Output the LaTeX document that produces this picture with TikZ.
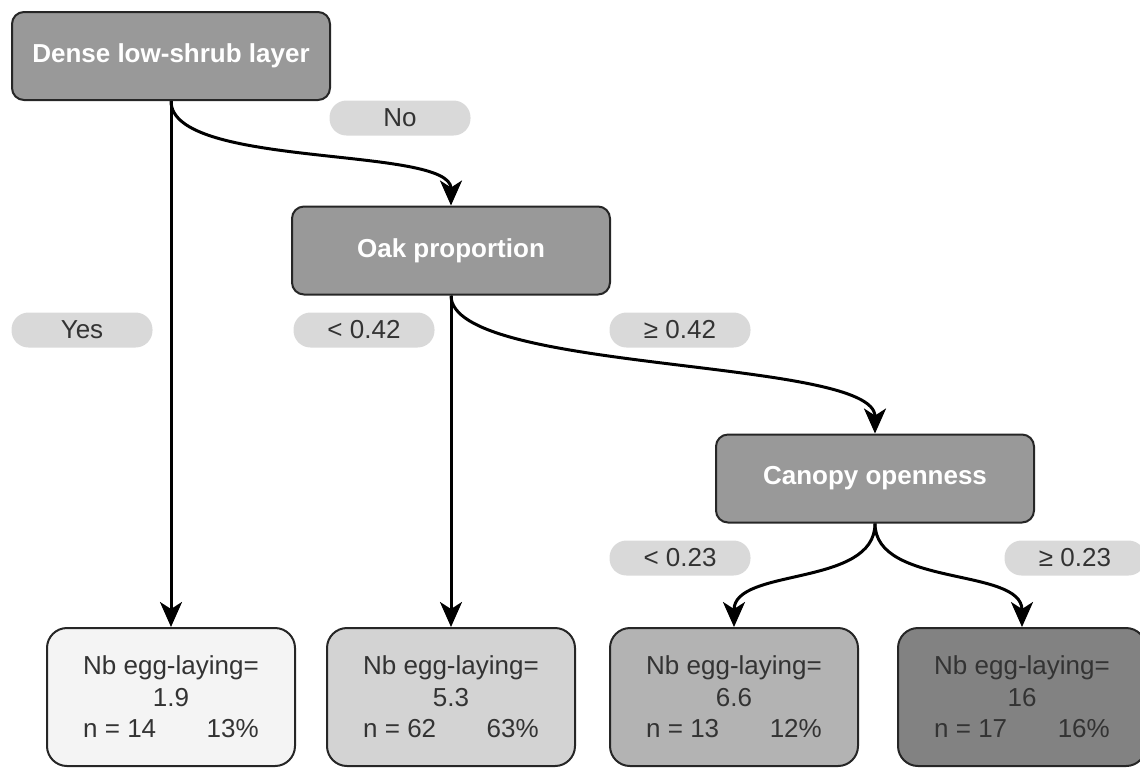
\documentclass[tikz,border=0pt]{standalone}
\usepackage{fontspec}
\setmainfont{Liberation Sans}
\usepackage{calc}
\usepackage{xcolor}
\usetikzlibrary{arrows.meta}
\definecolor{splitgray}{HTML}{999999}
\definecolor{pillgray}{HTML}{D9D9D9}
\definecolor{inkgray}{HTML}{333333}
\definecolor{leafA}{HTML}{F4F4F4}
\definecolor{leafB}{HTML}{D3D3D3}
\definecolor{leafC}{HTML}{B3B3B3}
\definecolor{leafD}{HTML}{828282}
\newcommand{\eggleaf}[3]{Nb egg-laying=\\#1\\\makebox[\widthof{Nb egg-laying=}]{n = #2\hfill #3\%}}

\begin{document}
\begin{tikzpicture}[x=0.5pt,y=-0.5pt,
  split/.style={draw=black!85,line width=1pt,rounded corners=6pt,fill=splitgray,minimum width=159pt,minimum height=44pt,inner sep=0pt,text=white,font=\fontsize{13}{16}\selectfont\bfseries},
  leaf/.style={draw=black!85,line width=1pt,rounded corners=10pt,minimum width=124pt,minimum height=69pt,inner sep=0pt,text=inkgray,align=center,font=\fontsize{13}{15.8}\selectfont},
  pill/.style={fill=pillgray,rounded corners=8.5pt,minimum width=70.5pt,minimum height=17.5pt,inner sep=0pt,text=inkgray,font=\fontsize{13}{15}\selectfont},
  edge/.style={line width=1.5pt,-{Stealth[length=12.5pt,width=11pt,inset=3.5pt]}}]
\useasboundingbox (0,0) rectangle (1140,768);
% \draw[densely dotted,step=50] (0,0) grid (1140,768);
\node[split] (root) at (171,56) {Dense low-shrub layer};
\node[split] (oak) at (451,250.5) {Oak proportion};
\node[split] (canopy) at (875,478.5) {Canopy openness};
\node[leaf,fill=leafA] (nodeA) at (171,697) {\eggleaf{1.9}{14}{13}};
\node[leaf,fill=leafB] (nodeB) at (451,697) {\eggleaf{5.3}{62}{63}};
\node[leaf,fill=leafC] (nodeC) at (734,697) {\eggleaf{6.6}{13}{12}};
\node[leaf,fill=leafD] (nodeD) at (1022,697) {\eggleaf{16}{17}{16}};
\node[pill] (no) at (400,118) {No};
\node[pill] (yes) at (82,330) {Yes};
\node[pill] (oaklo) at (364,330) {< 0.42};
\node[pill] (oakhi) at (680,330) {≥ 0.42};
\node[pill] (canlo) at (680,558) {< 0.23};
\node[pill] (canhi) at (1075,558) {≥ 0.23};
\draw[edge] (root.south) -- (nodeA.north);
\draw[edge] (root.south) .. controls +(0,68) and +(0,-60) .. (oak.north);
\draw[edge] (oak.south) -- (nodeB.north);
\draw[edge] (oak.south) .. controls +(0,78) and +(0,-76) .. (canopy.north);
\draw[edge] (canopy.south) .. controls +(0,64) and +(0,-60) .. (nodeC.north);
\draw[edge] (canopy.south) .. controls +(0,64) and +(0,-60) .. (nodeD.north);
\end{tikzpicture}
\end{document}
